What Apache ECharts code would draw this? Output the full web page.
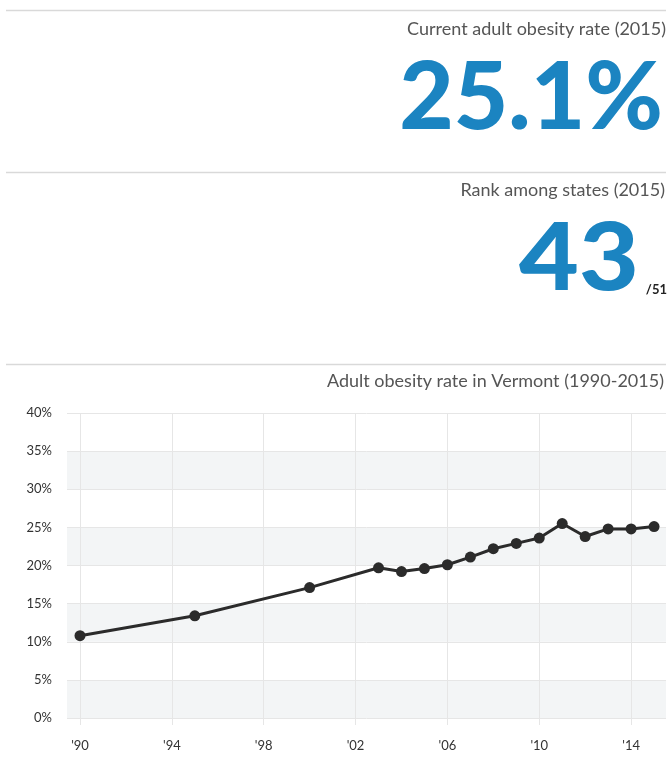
<!DOCTYPE html>
<html>
<head>
<meta charset="utf-8">
<style>
html,body{margin:0;padding:0;background:#fff;}
#main{width:669px;height:758px;}
</style>
<script src="https://cdn.jsdelivr.net/npm/echarts@6/dist/echarts.min.js"></script>
</head>
<body>
<div id="main"></div>
<script>
// ---- data ----
const years = [1990, 1995, 2000, 2003, 2004, 2005, 2006, 2007, 2008, 2009, 2010, 2011, 2012, 2013, 2014, 2015];
const obesityRate = [10.8, 13.4, 17.1, 19.7, 19.2, 19.6, 20.1, 21.1, 22.2, 22.9, 23.6, 25.5, 23.8, 24.8, 24.8, 25.1];
const xTickYears = [1990, 1994, 1998, 2002, 2006, 2010, 2014];
const xTickLabels = ["'90", "'94", "'98", "'02", "'06", "'10", "'14"];
const currentRate = "25.1%";
const rankValue = "43";
const rankTotal = "/51";
const headline1 = "Current adult obesity rate (2015)";
const headline2 = "Rank among states (2015)";
const chartTitle = "Adult obesity rate in Vermont (1990-2015)";

const FONT = "Lato, 'Open Sans', sans-serif";
const chart = echarts.init(document.getElementById('main'), null, {renderer: 'canvas'});

const seriesData = years.map((y, i) => [y, obesityRate[i]]);

chart.setOption({
  animation: false,
  backgroundColor: '#fff',
  grid: {left: 67, right: 3, top: 413, bottom: 40, containLabel: false},
  xAxis: {
    type: 'value',
    min: 1989.434,
    max: 2015.52,
    axisLine: {show: false},
    axisTick: {show: true, customValues: xTickYears, length: 7, lineStyle: {color: '#e6e6e6', width: 1}},
    axisLabel: {
      customValues: xTickYears,
      margin: 21,
      color: '#333',
      fontSize: 13,
      fontFamily: FONT,
      formatter: v => xTickLabels[xTickYears.indexOf(Math.round(v))] || ''
    },
    splitLine: {show: false}
  },
  yAxis: {
    type: 'value',
    min: 0,
    max: 40,
    interval: 5,
    axisLine: {show: false},
    axisTick: {show: false},
    axisLabel: {formatter: '{value}%', color: '#333', fontSize: 13, fontFamily: FONT, margin: 15},
    splitLine: {show: true, lineStyle: {color: '#e6e6e6', width: 1}},
    splitArea: {show: true, areaStyle: {color: ['#f3f5f6', '#ffffff']}}
  },
  series: [{
    type: 'line',
    data: seriesData,
    symbol: 'circle',
    symbolSize: 11,
    showSymbol: true,
    lineStyle: {color: '#2b2b2b', width: 3},
    itemStyle: {color: '#2b2b2b'},
    z: 5,
    markLine: {
      silent: true,
      symbol: ['none', 'none'],
      label: {show: false},
      lineStyle: {color: '#e6e6e6', width: 1, type: 'solid'},
      data: xTickYears.map(y => ({xAxis: y})),
      z: 1
    }
  }],
  graphic: [
    {type: 'line', shape: {x1: 6, y1: 10.5, x2: 666, y2: 10.5}, style: {stroke: '#d9d9d9', lineWidth: 1.5}},
    {type: 'line', shape: {x1: 6, y1: 172.5, x2: 666, y2: 172.5}, style: {stroke: '#d9d9d9', lineWidth: 1.5}},
    {type: 'line', shape: {x1: 6, y1: 364.5, x2: 666, y2: 364.5}, style: {stroke: '#d9d9d9', lineWidth: 1.5}},
    {type: 'text', style: {text: headline1, x: 666, y: 29, align: 'right', verticalAlign: 'middle', fill: '#555', font: '18px ' + FONT}},
    {type: 'text', style: {text: currentRate, x: 663, y: 98.5, align: 'right', verticalAlign: 'middle', fill: '#1b84c1', font: '900 94px ' + FONT}},
    {type: 'text', style: {text: headline2, x: 665, y: 190, align: 'right', verticalAlign: 'middle', fill: '#555', font: '18px ' + FONT}},
    {type: 'text', x: 639, y: 260, scaleX: 1.1, style: {text: rankValue, x: 0, y: 0, align: 'right', verticalAlign: 'middle', fill: '#1b84c1', font: '900 94px ' + FONT}},
    {type: 'text', style: {text: rankTotal, x: 667, y: 290, align: 'right', verticalAlign: 'middle', fill: '#222', font: 'bold 13px ' + FONT}},
    {type: 'text', style: {text: chartTitle, x: 664, y: 381, align: 'right', verticalAlign: 'middle', fill: '#555', font: '18px ' + FONT}}
  ]
});
</script>
</body>
</html>
